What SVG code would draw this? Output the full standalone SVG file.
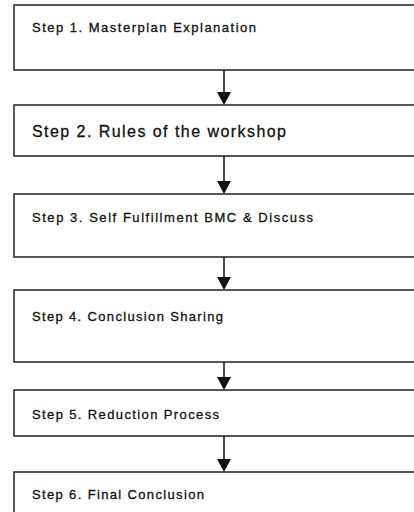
<svg xmlns="http://www.w3.org/2000/svg" width="414" height="512" viewBox="0 0 414 512">
<style>
.box{fill:#fff;stroke:#222;stroke-width:1.5}
.t{font-family:"Liberation Sans",Arial,sans-serif;font-size:13px;fill:#111;stroke:#111;stroke-width:0.3}
.t2{font-size:16px}
.ln{stroke:#111;stroke-width:1.5}
.hd{fill:#111}
</style>
<rect width="414" height="512" fill="#fff"/>
<g id="step1"><rect class="box" x="14" y="5" width="420" height="65"/><text class="t" x="32" y="32" textLength="224" lengthAdjust="spacing">Step 1. Masterplan Explanation</text></g>
<g id="step2"><rect class="box" x="14" y="105" width="420" height="51"/><text class="t t2" x="32" y="137" textLength="254" lengthAdjust="spacing">Step 2. Rules of the workshop</text></g>
<g id="step3"><rect class="box" x="14" y="194" width="420" height="63"/><text class="t" x="32" y="222" textLength="281" lengthAdjust="spacing">Step 3. Self Fulfillment BMC &amp; Discuss</text></g>
<g id="step4"><rect class="box" x="14" y="290" width="420" height="72"/><text class="t" x="32" y="321" textLength="191" lengthAdjust="spacing">Step 4. Conclusion Sharing</text></g>
<g id="step5"><rect class="box" x="14" y="390" width="420" height="46"/><text class="t" x="32" y="419" textLength="187" lengthAdjust="spacing">Step 5. Reduction Process</text></g>
<g id="step6"><rect class="box" x="14" y="472" width="420" height="60"/><text class="t" x="32" y="499" textLength="172" lengthAdjust="spacing">Step 6. Final Conclusion</text></g>
<g id="connectors">
<line class="ln" x1="224" y1="70" x2="224" y2="95"/><polygon class="hd" points="217,92 231,92 224,105"/>
<line class="ln" x1="224" y1="156" x2="224" y2="184"/><polygon class="hd" points="217,181 231,181 224,194"/>
<line class="ln" x1="224" y1="257" x2="224" y2="280"/><polygon class="hd" points="217,277 231,277 224,290"/>
<line class="ln" x1="224" y1="362" x2="224" y2="380"/><polygon class="hd" points="217,377 231,377 224,390"/>
<line class="ln" x1="224" y1="436" x2="224" y2="462"/><polygon class="hd" points="217,459 231,459 224,472"/>
</g>
</svg>
